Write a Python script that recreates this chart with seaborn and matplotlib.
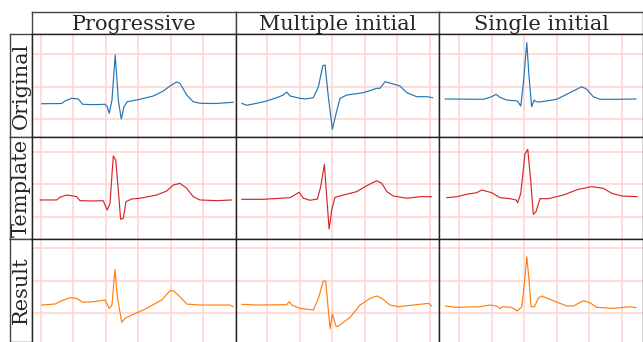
import matplotlib
matplotlib.use("Agg")
import matplotlib.pyplot as plt
from matplotlib.ticker import MultipleLocator
import seaborn as sns
import pandas as pd

# Column (method) and row (signal kind) names
methods = ["Progressive", "Multiple initial", "Single initial"]
kinds = ["Original", "Template", "Result"]
kind_colors = {"Original": "#1f77b4", "Template": "#d62728", "Result": "#ff7f0e"}

# ---- Beats: time in seconds, amplitude in mV ----
# Progressive
t_orig_prog = [0.004, 0.127, 0.148, 0.189, 0.230, 0.257, 0.322, 0.394, 0.406, 0.420, 0.437, 0.457,
               0.476, 0.494, 0.511, 0.531, 0.609, 0.691, 0.753, 0.794, 0.835, 0.855, 0.897, 0.937,
               0.978, 1.071, 1.183]
v_orig_prog = [0.235, 0.238, 0.277, 0.318, 0.308, 0.226, 0.220, 0.226, 0.200, 0.088, 0.292, 0.985,
               0.292, 0.000, 0.189, 0.266, 0.303, 0.354, 0.431, 0.508, 0.569, 0.549, 0.369, 0.266,
               0.242, 0.238, 0.257]
t_tmpl_prog = [-0.006, 0.097, 0.117, 0.158, 0.199, 0.220, 0.240, 0.322, 0.383, 0.408, 0.425, 0.445,
               0.460, 0.476, 0.490, 0.507, 0.523, 0.558, 0.609, 0.712, 0.774, 0.814, 0.855, 0.897,
               0.937, 0.978, 1.081, 1.174]
v_tmpl_prog = [0.262, 0.262, 0.303, 0.338, 0.323, 0.312, 0.251, 0.246, 0.251, 0.108, 0.211, 0.938,
               0.877, 0.415, -0.035, -0.020, 0.235, 0.277, 0.288, 0.338, 0.400, 0.492, 0.518, 0.441,
               0.312, 0.262, 0.251, 0.262]
t_res_prog = [0.004, 0.086, 0.127, 0.178, 0.220, 0.257, 0.322, 0.394, 0.420, 0.437, 0.455, 0.470,
              0.497, 0.517, 0.558, 0.630, 0.743, 0.794, 0.814, 0.855, 0.897, 0.978, 1.163, 1.183]
v_res_prog = [0.123, 0.138, 0.189, 0.235, 0.226, 0.165, 0.174, 0.200, 0.072, 0.123, 0.672, 0.251,
              -0.143, -0.082, -0.031, 0.046, 0.200, 0.343, 0.343, 0.251, 0.138, 0.123, 0.123, 0.097]

# Multiple initial
t_orig_multi = [0.044, 0.075, 0.137, 0.198, 0.260, 0.300, 0.321, 0.342, 0.403, 0.434, 0.485, 0.516,
                0.543, 0.557, 0.577, 0.602, 0.625, 0.649, 0.690, 0.793, 0.875, 0.895, 0.926, 0.977,
                1.018, 1.060, 1.121, 1.183, 1.220]
v_orig_multi = [0.242, 0.211, 0.242, 0.277, 0.328, 0.369, 0.415, 0.354, 0.318, 0.308, 0.328, 0.497,
                0.820, 0.831, 0.343, -0.158, 0.088, 0.318, 0.369, 0.405, 0.472, 0.472, 0.574, 0.538,
                0.508, 0.405, 0.343, 0.343, 0.328]
t_tmpl_multi = [0.044, 0.177, 0.342, 0.397, 0.424, 0.465, 0.510, 0.530, 0.553, 0.567, 0.582, 0.598,
                0.618, 0.670, 0.752, 0.814, 0.875, 0.906, 0.937, 0.977, 1.060, 1.142, 1.213]
v_tmpl_multi = [0.272, 0.272, 0.297, 0.380, 0.288, 0.257, 0.277, 0.467, 0.810, 0.312, -0.185, 0.108,
                0.303, 0.338, 0.390, 0.482, 0.558, 0.518, 0.390, 0.323, 0.288, 0.312, 0.312]
t_res_multi = [0.044, 0.137, 0.321, 0.337, 0.352, 0.403, 0.485, 0.516, 0.546, 0.561, 0.577, 0.588,
               0.602, 0.625, 0.639, 0.711, 0.772, 0.834, 0.875, 0.906, 0.957, 1.008, 1.100, 1.193,
               1.213]
v_res_multi = [0.133, 0.123, 0.128, 0.174, 0.123, 0.072, 0.046, 0.226, 0.492, 0.492, 0.046, -0.241,
               -0.015, -0.210, -0.200, -0.066, 0.123, 0.226, 0.262, 0.226, 0.123, 0.097, 0.123, 0.149,
               0.108]

# Single initial
t_orig_single = [0.114, 0.350, 0.401, 0.428, 0.452, 0.494, 0.559, 0.580, 0.596, 0.617, 0.631, 0.647,
                 0.662, 0.674, 0.698, 0.801, 0.883, 0.955, 0.986, 1.026, 1.068, 1.170, 1.289]
v_orig_single = [0.308, 0.303, 0.343, 0.380, 0.334, 0.292, 0.277, 0.200, 0.549, 1.174, 0.651, 0.189,
                 0.292, 0.266, 0.262, 0.303, 0.405, 0.497, 0.457, 0.343, 0.303, 0.303, 0.308]
t_tmpl_single = [0.124, 0.186, 0.247, 0.309, 0.340, 0.401, 0.452, 0.514, 0.551, 0.561, 0.580, 0.606,
                 0.623, 0.641, 0.657, 0.674, 0.698, 0.750, 0.842, 0.934, 1.016, 1.088, 1.140, 1.201,
                 1.297]
v_tmpl_single = [0.297, 0.312, 0.349, 0.374, 0.415, 0.374, 0.297, 0.282, 0.262, 0.220, 0.364, 0.969,
                 1.041, 0.569, 0.041, 0.082, 0.282, 0.282, 0.338, 0.426, 0.467, 0.441, 0.364, 0.323,
                 0.312]
t_res_single = [0.114, 0.186, 0.329, 0.391, 0.432, 0.452, 0.469, 0.524, 0.559, 0.586, 0.602, 0.617,
                0.631, 0.643, 0.664, 0.688, 0.709, 0.780, 0.863, 0.904, 0.965, 1.006, 1.047, 1.150,
                1.252, 1.289]
v_res_single = [0.108, 0.087, 0.097, 0.123, 0.108, 0.066, 0.097, 0.087, 0.031, 0.097, 0.456, 0.866,
                0.508, 0.097, 0.097, 0.226, 0.262, 0.189, 0.108, 0.108, 0.189, 0.158, 0.087, 0.072,
                0.097, 0.082]

series = {
    ("Original", "Progressive"): (t_orig_prog, v_orig_prog),
    ("Template", "Progressive"): (t_tmpl_prog, v_tmpl_prog),
    ("Result", "Progressive"): (t_res_prog, v_res_prog),
    ("Original", "Multiple initial"): (t_orig_multi, v_orig_multi),
    ("Template", "Multiple initial"): (t_tmpl_multi, v_tmpl_multi),
    ("Result", "Multiple initial"): (t_res_multi, v_res_multi),
    ("Original", "Single initial"): (t_orig_single, v_orig_single),
    ("Template", "Single initial"): (t_tmpl_single, v_tmpl_single),
    ("Result", "Single initial"): (t_res_single, v_res_single),
}

# Visible time window per column and amplitude window per row
xlims = {"Progressive": (-0.055, 1.198),
         "Multiple initial": (0.007, 1.260),
         "Single initial": (0.079, 1.332)}
ylims = {"Original": (-0.272, 1.308),
         "Template": (-0.344, 1.236),
         "Result": (-0.446, 1.134)}

sns.set_style("white")
plt.rcParams["font.family"] = ["DejaVu Serif"]

W, H = 643, 342
fig = plt.figure(figsize=(W / 100, H / 100), dpi=100)

x0, y0 = 32, 34            # top-left corner of the panel grid (px)
cw = (W - x0) / 3          # panel width (px)
rh = (H - y0) / 3          # panel height (px)
hdr_top = 12               # top of the column header boxes (px)
lbl_left = 10              # left of the row label boxes (px)

grid_color = "#ffd6d6"
frame_color = "#222222"

for j, m in enumerate(methods):
    # column header box
    hx = fig.add_axes([(x0 + j * cw) / W, 1 - y0 / H, cw / W, (y0 - hdr_top) / H])
    hx.set_xticks([]); hx.set_yticks([])
    for s in hx.spines.values():
        s.set_color("#444444"); s.set_linewidth(1.0)
    hx.text(0.5, 0.45, m, ha="center", va="center", fontsize=15, transform=hx.transAxes)

for i, k in enumerate(kinds):
    # row label box
    lx = fig.add_axes([lbl_left / W, 1 - (y0 + (i + 1) * rh) / H, (x0 - lbl_left) / W, rh / H])
    lx.set_xticks([]); lx.set_yticks([])
    for s in lx.spines.values():
        s.set_color("#444444"); s.set_linewidth(1.0)
    lx.text(0.5, 0.5, k, ha="center", va="center", rotation=90, fontsize=15,
            transform=lx.transAxes)

    for j, m in enumerate(methods):
        ax = fig.add_axes([(x0 + j * cw) / W, 1 - (y0 + (i + 1) * rh) / H, cw / W, rh / H])
        t, v = series[(k, m)]
        df = pd.DataFrame({"t": t, "v": v})
        sns.lineplot(data=df, x="t", y="v", ax=ax, color=kind_colors[k], lw=0.85,
                     sort=False, estimator=None)
        ax.set_xlim(*xlims[m])
        ax.set_ylim(*ylims[k])
        ax.xaxis.set_major_locator(MultipleLocator(0.2))
        ax.yaxis.set_major_locator(MultipleLocator(0.5))
        ax.grid(True, which="major", color=grid_color, lw=1.2)
        ax.set_axisbelow(True)
        ax.tick_params(length=0, labelbottom=False, labelleft=False)
        ax.set_xlabel(""); ax.set_ylabel("")
        for s in ax.spines.values():
            s.set_color(frame_color); s.set_linewidth(1.0)
            s.set_visible(True)
        if i == 2:
            ax.spines["bottom"].set_visible(False)

fig.savefig("out.png", dpi=100)
